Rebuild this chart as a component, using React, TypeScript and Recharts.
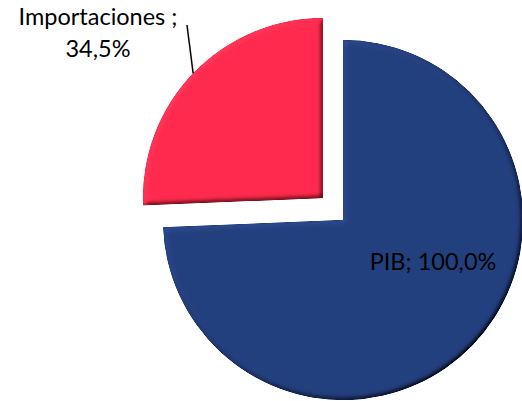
import { PieChart, Pie, Cell } from 'recharts';

const categories = ['PIB', 'Importaciones'];
const values = [100.0, 34.5];
const colors = ['#243F7D', '#FF2B4D'];

const data = categories.map((name, i) => ({ name, value: values[i] }));

const RADIAN = Math.PI / 180;
const fmt = (v: number) => v.toFixed(1).replace('.', ',') + '%';

const textStyle = { fontFamily: 'Lato, "Open Sans", sans-serif', fontSize: 23.5, fill: '#000' };

// label for the blue (PIB) slice, sits inside
const pibLabel = (props: any) => {
  if (props.index !== 0) return <g />;
  const { cx, cy, name, value } = props;
  return (
    <text x={cx + 90} y={cy + 50} textAnchor="middle" style={textStyle}>
      {`${name}; ${fmt(value)}`}
    </text>
  );
};

// label for the red slice, outside with a leader line
const impLabel = (props: any) => {
  if (props.index !== 1) return <g />;
  const { cx, cy, midAngle, outerRadius, name, value } = props;
  const sx = cx + outerRadius * Math.cos(-midAngle * RADIAN);
  const sy = cy + outerRadius * Math.sin(-midAngle * RADIAN);
  const tx = cx - 225;
  const ty = cy - 173;
  return (
    <g>
      <line x1={sx} y1={sy} x2={cx - 136} y2={cy - 173} stroke="#000" strokeWidth={1.5} />
      <text x={tx} y={ty} textAnchor="middle" style={textStyle}>
        {`${name} ;`}
      </text>
      <text x={tx} y={ty + 32} textAnchor="middle" style={textStyle}>
        {fmt(value)}
      </text>
    </g>
  );
};

export default function App() {
  return (
    <div style={{ position: 'absolute', left: 0, top: 0, width: 522, height: 401, background: '#fff' }}>
      <svg width={0} height={0} style={{ position: 'absolute' }}>
        <defs>
          <filter id="bevel" x="-5%" y="-5%" width="110%" height="110%">
            <feGaussianBlur in="SourceAlpha" stdDeviation="2.5" result="blur" />
            <feDiffuseLighting in="blur" surfaceScale="3" diffuseConstant="1" lightingColor="#fff" result="light">
              <feDistantLight azimuth={225} elevation={45} />
            </feDiffuseLighting>
            <feComposite in="SourceGraphic" in2="light" operator="arithmetic" k1={1.414} k2={0} k3={0} k4={0} />
          </filter>
        </defs>
      </svg>
      <PieChart width={522} height={401} margin={{ top: 0, right: 0, bottom: 0, left: 0 }}>
        <Pie
          data={data}
          dataKey="value"
          nameKey="name"
          cx={343}
          cy={220}
          outerRadius={180}
          startAngle={90}
          endAngle={-270}
          stroke="none"
          label={pibLabel}
          labelLine={false}
          isAnimationActive={false}
        >
          {data.map((d, i) => (
            <Cell key={d.name} fill={i === 0 ? colors[0] : 'transparent'} filter={i === 0 ? 'url(#bevel)' : undefined} />
          ))}
        </Pie>
        <Pie
          data={data}
          dataKey="value"
          nameKey="name"
          cx={323}
          cy={198}
          outerRadius={180}
          startAngle={90}
          endAngle={-270}
          stroke="none"
          label={impLabel}
          labelLine={false}
          isAnimationActive={false}
        >
          {data.map((d, i) => (
            <Cell key={d.name} fill={i === 1 ? colors[1] : 'transparent'} filter={i === 1 ? 'url(#bevel)' : undefined} />
          ))}
        </Pie>
      </PieChart>
    </div>
  );
}
